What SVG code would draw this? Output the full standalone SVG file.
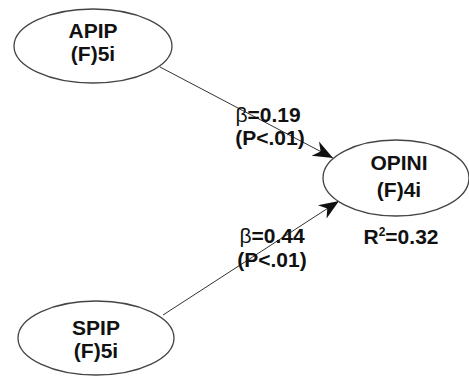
<svg xmlns="http://www.w3.org/2000/svg" width="469" height="379" viewBox="0 0 469 379">
<defs>
<style>
.node ellipse{fill:#fff;stroke:#444;stroke-width:1.3}
text{font-family:"Liberation Sans",Arial,sans-serif;font-weight:bold;fill:#111;text-anchor:middle;font-size:21px}
.b{font-weight:normal}
.edge{stroke:#333;stroke-width:1;fill:none}
</style>
<marker id="arr" viewBox="-22 -9 24 18" markerWidth="24" markerHeight="18" refX="0" refY="0" orient="auto" markerUnits="userSpaceOnUse">
<path d="M0,0 L-20,-8 L-14,0 L-20,8 Z" fill="#111"/>
</marker>
</defs>
<rect width="469" height="379" fill="#fff"/>
<g id="connectors">
<line class="edge" x1="160" y1="67" x2="333" y2="158" marker-end="url(#arr)"/>
<line class="edge" x1="163" y1="315" x2="339" y2="201" marker-end="url(#arr)"/>
<text x="268" y="122"><tspan class="b">β</tspan>=0.19</text>
<text x="270" y="145">(P&lt;.01)</text>
<text x="272" y="243"><tspan class="b">β</tspan>=0.44</text>
<text x="272" y="267">(P&lt;.01)</text>
</g>
<g id="APIP" class="node">
<ellipse cx="93" cy="46" rx="79" ry="37"/>
<text x="93" y="38">APIP</text>
<text x="93" y="61">(F)5i</text>
</g>
<g id="OPINI" class="node">
<ellipse cx="396" cy="178" rx="73" ry="38"/>
<text x="399" y="170">OPINI</text>
<text x="399" y="197">(F)4i</text>
<text x="401" y="244">R<tspan dy="-8" font-size="12">2</tspan><tspan dy="8">=0.32</tspan></text>
</g>
<g id="SPIP" class="node">
<ellipse cx="96" cy="338" rx="78" ry="37"/>
<text x="96" y="335">SPIP</text>
<text x="96" y="358">(F)5i</text>
</g>
</svg>
